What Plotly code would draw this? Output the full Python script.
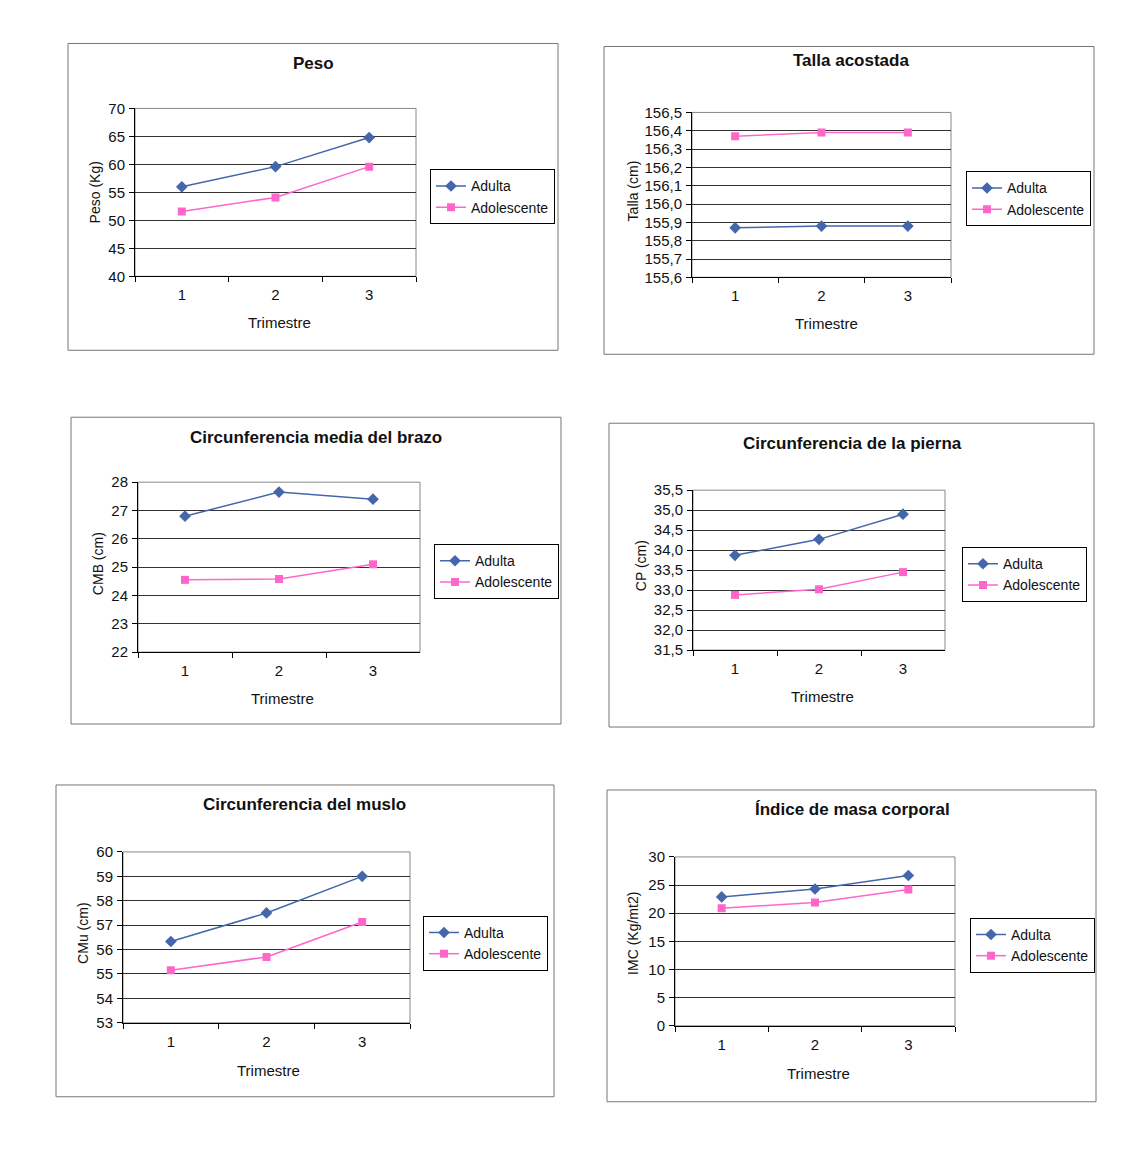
import plotly.graph_objects as go

W, H = 1143, 1175
M = 8  # default page body margin
FW, FH = W - 2 * M, H - 2 * M
trimestres = ["1", "2", "3"]

titles = ["Peso", "Talla acostada", "Circunferencia media del brazo",
          "Circunferencia de la pierna", "Circunferencia del muslo", "Índice de masa corporal"]
ytitles = ["Peso (Kg)", "Talla (cm)", "CMB (cm)", "CP (cm)", "CMu (cm)", "IMC (Kg/mt2)"]

peso_adulta = [56.0, 59.6, 64.8]
peso_adolescente = [51.6, 54.1, 59.6]
talla_adulta = [155.87, 155.88, 155.88]
talla_adolescente = [156.37, 156.39, 156.39]
cmb_adulta = [26.8, 27.65, 27.4]
cmb_adolescente = [24.55, 24.58, 25.1]
cp_adulta = [33.87, 34.27, 34.9]
cp_adolescente = [32.88, 33.02, 33.45]
cmu_adulta = [56.33, 57.5, 59.0]
cmu_adolescente = [55.15, 55.7, 57.13]
imc_adulta = [22.9, 24.3, 26.7]
imc_adolescente = [20.9, 21.9, 24.2]

adulta = [peso_adulta, talla_adulta, cmb_adulta, cp_adulta, cmu_adulta, imc_adulta]
adolescente = [peso_adolescente, talla_adolescente, cmb_adolescente,
               cp_adolescente, cmu_adolescente, imc_adolescente]

yranges = [(40, 70, 5), (155.6, 156.5, 0.1), (22, 28, 1), (31.5, 35.5, 0.5), (53, 60, 1), (0, 30, 5)]
yformats = ["d", ".1f", "d", ".1f", "d", "d"]

# layout geometry in page pixels
boxes = [(68, 42, 558, 349), (604, 45, 1094, 353), (71, 416, 561, 723),
         (609, 422, 1094, 726), (56, 784, 554, 1096), (607, 789, 1096, 1101)]
plots = [(135, 107, 416, 275), (692, 111, 951, 276), (138, 481, 420, 651),
         (693, 489, 945, 649), (123, 851, 410, 1022), (675, 856, 955, 1025)]
legends = [(430, 168), (966, 170), (434, 543), (962, 546), (423, 915), (970, 917)]
title_pos = [(313, 62), (851, 59), (316, 436), (852, 442), (304, 804), (852, 809)]
ytitle_pos = [(95, 191), (633, 190), (98, 563), (641, 565), (83, 933), (633, 933)]
xtitle_pos = [(279, 321), (826, 322), (282, 697), (822, 695), (268, 1070), (818, 1073)]

FONT = "Liberation Sans, Arial, sans-serif"
BLUE = "#4466AA"
PINK = "#FF66CC"

def px(x):
    return (x - M) / FW

def py(y):
    return 1 - ((y - 15.5) / 0.986) / FH

fig = go.Figure()
shapes = []
annotations = []
layout = {}

for i in range(6):
    n = i + 1
    xa = "x" if n == 1 else f"x{n}"
    ya = "y" if n == 1 else f"y{n}"
    lg = "legend" if n == 1 else f"legend{n}"
    x0, y0, x1, y1 = plots[i]
    fig.add_trace(go.Scatter(x=trimestres, y=adulta[i], name="Adulta", mode="lines+markers",
                             line=dict(color=BLUE, width=1.5),
                             marker=dict(symbol="diamond", size=9, color=BLUE),
                             xaxis=xa, yaxis=ya, legend=lg))
    fig.add_trace(go.Scatter(x=trimestres, y=adolescente[i], name="Adolescente", mode="lines+markers",
                             line=dict(color=PINK, width=1.5),
                             marker=dict(symbol="square", size=8, color=PINK),
                             xaxis=xa, yaxis=ya, legend=lg))
    lo, hi, dt = yranges[i]
    layout["xaxis" if n == 1 else f"xaxis{n}"] = dict(
        domain=[px(x0), px(x1)], anchor=ya, type="category", tickson="boundaries",
        ticks="outside", ticklen=5, tickcolor="#000", showline=True, linecolor="#000",
        linewidth=1, showgrid=False, tickfont=dict(family=FONT, size=15, color="#111"),
        ticklabelstandoff=5, range=[-0.5, 2.5], fixedrange=True)
    layout["yaxis" if n == 1 else f"yaxis{n}"] = dict(
        domain=[py(y1), py(y0)], anchor=xa, range=[lo, hi], dtick=dt, tick0=lo,
        ticks="outside", ticklen=5, tickcolor="#000", showline=True, linecolor="#000",
        linewidth=1, showgrid=True, gridcolor="#333333", gridwidth=1, zeroline=False,
        tickformat=yformats[i], tickfont=dict(family=FONT, size=15, color="#111"),
        ticklabelstandoff=1, fixedrange=True)
    lx, ly = legends[i]
    layout[lg] = dict(x=px(lx), y=py(ly), xanchor="left", yanchor="top",
                      bordercolor="#000", borderwidth=1, bgcolor="white",
                      font=dict(family=FONT, size=14, color="#111"),
                      itemwidth=30, tracegroupgap=0)
    bx0, by0, bx1, by1 = boxes[i]
    shapes.append(dict(type="rect", xref="paper", yref="paper", x0=px(bx0), x1=px(bx1),
                       y0=py(by1), y1=py(by0), line=dict(color="#777", width=1), layer="below"))
    shapes.append(dict(type="rect", xref="paper", yref="paper", x0=px(x0), x1=px(x1),
                       y0=py(y1), y1=py(y0), line=dict(color="#888", width=1), layer="below"))
    tx, ty = title_pos[i]
    annotations.append(dict(text=f"<b>{titles[i]}</b>", x=px(tx), y=py(ty), xref="paper", yref="paper",
                            showarrow=False, xanchor="center", yanchor="middle",
                            font=dict(family=FONT, size=17, color="#111")))
    yx, yy = ytitle_pos[i]
    annotations.append(dict(text=ytitles[i], x=px(yx), y=py(yy), xref="paper", yref="paper",
                            showarrow=False, xanchor="center", yanchor="middle", textangle=-90,
                            font=dict(family=FONT, size=14, color="#111")))
    xx, xy = xtitle_pos[i]
    annotations.append(dict(text="Trimestre", x=px(xx), y=py(xy), xref="paper", yref="paper",
                            showarrow=False, xanchor="center", yanchor="middle",
                            font=dict(family=FONT, size=15, color="#111")))

fig.update_layout(width=FW, height=FH, margin=dict(l=0, r=0, t=0, b=0),
                  paper_bgcolor="white", plot_bgcolor="white", separators=",.",
                  shapes=shapes, annotations=annotations, showlegend=True, **layout)
fig.write_html("out.html")
